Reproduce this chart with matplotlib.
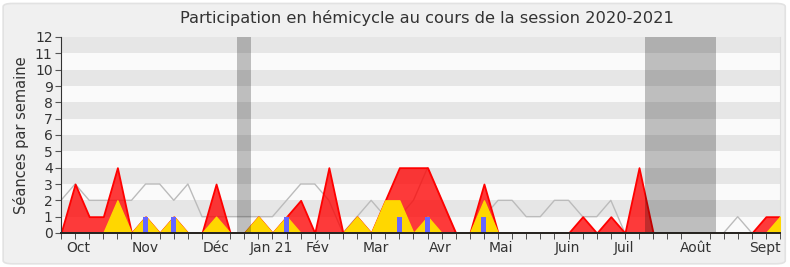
import numpy as np
import matplotlib
matplotlib.use("Agg")
import matplotlib.pyplot as plt
from matplotlib.patches import FancyBboxPatch

plt.rcParams["font.family"] = ["DejaVu Sans Condensed", "DejaVu Sans"]

# weekly values, session 2020-2021 (52 weeks)
weeks = np.arange(52)
presence = [0, 3, 1, 1, 4, 0, 1, 0, 1, 0, 0, 3, 0, 0, 1, 0, 1, 2, 0, 4,
            0, 1, 0, 2, 4, 4, 4, 2, 0, 0, 3, 0, 0, 0, 0, 0, 0, 1, 0, 1,
            0, 4, 0, 0, 0, 0, 0, 0, 0, 0, 1, 1]
interventions = [0, 0, 0, 0, 2, 0, 1, 0, 1, 0, 0, 1, 0, 0, 1, 0, 1, 0, 0, 0,
                 0, 1, 0, 2, 2, 0, 1, 0, 0, 0, 2, 0, 0, 0, 0, 0, 0, 0, 0, 0,
                 0, 0, 0, 0, 0, 0, 0, 0, 0, 0, 0, 1]
mediane = [2, 3, 2, 2, 2, 2, 3, 3, 2, 3, 1, 1, 1, 1, 1, 1, 2, 3, 3, 2,
           0, 1, 2, 1, 1, 2, 4, 2, 0, 0, 1, 2, 2, 1, 1, 2, 2, 1, 1, 2,
           0, 0, 0, 0, 0, 0, 0, 0, 1, 0, 0, 0]
questions_weeks = [6, 8, 16, 24, 26, 30]
questions = [1, 1, 1, 1, 1, 1]
vacances = [(12.45, 13.5), (41.45, 46.45)]
mois = ["Oct", "Nov", "Déc", "Jan 21", "Fév", "Mar", "Avr", "Mai", "Juin",
        "Juil", "Août", "Sept"]
mois_pos = [1.2, 6.0, 11.0, 14.9, 18.2, 22.3, 26.9, 31.2, 35.9, 39.9, 45.0, 49.9]

fig = plt.figure(figsize=(7.9, 2.67), dpi=100)
fig.patch.set_facecolor("white")
fig.patches.append(FancyBboxPatch((0.004, 0.012), 0.99, 0.975,
                                  boxstyle="round,pad=0,rounding_size=0.012",
                                  transform=fig.transFigure, facecolor="#f0f0f0",
                                  edgecolor="#e2e2e2", lw=1.2, zorder=-10))
ax = fig.add_axes([61 / 790, 34 / 267, 719 / 790, 196 / 267])
ax.set_facecolor("#fafafa")

# horizontal stripes
for k in range(1, 12, 2):
    ax.axhspan(k, k + 1, color="#e6e6e6", lw=0, zorder=0)

ax.plot(weeks, mediane, color="#bbbbbb", lw=1, zorder=1)
ax.fill_between(weeks, presence, color=(1, 0, 0, 0.77), edgecolor="#ff0000",
                lw=1.3, zorder=2)
ax.fill_between(weeks, interventions, color="#ffd700", edgecolor="#ffd700",
                lw=1, zorder=3)
ax.bar(questions_weeks, questions, width=0.35, color="#6666ff", zorder=4)
for a, b in vacances:
    ax.axvspan(a, b, color="black", alpha=0.24, lw=0, zorder=5)

ax.set_xlim(0, 51)
ax.set_ylim(0, 12)
ax.set_yticks(range(13))
ax.tick_params(axis="y", colors="#555555", labelcolor="#333333", labelsize=10,
               length=4, pad=2)
ax.set_xticks(mois_pos)
ax.set_xticklabels(mois)
ax.tick_params(axis="x", which="major", length=0, labelsize=10,
               labelcolor="#333333", pad=6)
ax.set_xticks(weeks, minor=True)
ax.tick_params(axis="x", which="minor", length=4, color="#333333",
               direction="out", top=False)
for w in weeks:
    ax.plot([w, w], [11.97, 12], color="#333333", lw=1, zorder=6, clip_on=False)

ax.spines["left"].set_color("#333333")
ax.spines["bottom"].set_color("#222222")
ax.spines["bottom"].set_linewidth(1.4)
ax.spines["bottom"].set_zorder(10)
ax.spines["left"].set_zorder(10)
ax.spines["top"].set_visible(False)
ax.spines["right"].set_color("#dddddd")

ax.set_ylabel("Séances par semaine", fontsize=10.5, color="#333333", labelpad=4)
fig.text(427 / 790, 1 - 18 / 267, "Participation en hémicycle au cours de la session 2020-2021",
         ha="center", va="center", fontsize=11.7, color="#333333")

fig.savefig("out.png", dpi=100, facecolor=fig.get_facecolor())
